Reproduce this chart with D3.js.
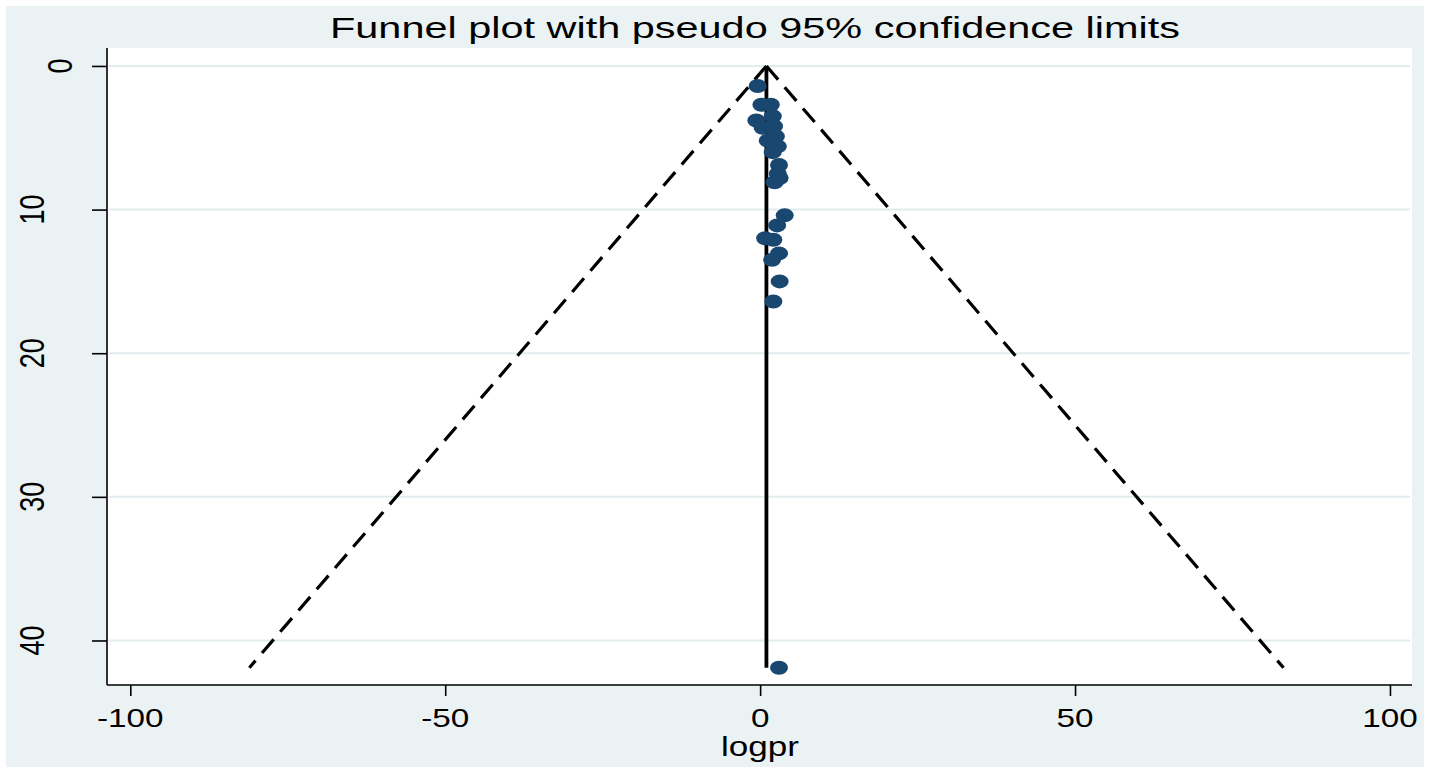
<head>
    <meta charset="utf-8">
    <title>Funnel plot</title>
    <script src="https://d3js.org/d3.v7.min.js" charset="utf-8"></script>
    <style>
        body { margin: 0; background: #ffffff; }
        text { font-family: "Liberation Sans", Arial, sans-serif; fill: #000; }
    </style>
</head>

<body>
    <div class="chart"></div>
    <script type="text/javascript">

        // study estimates (logpr) and their standard errors
        const effect = [-0.4, 0.2, 1.7, -0.6, 2.0, 0.4, 2.2, 2.5, 1.2, 2.8, 2.0,
                        3.0, 2.8, 3.1, 2.3, 3.9, 2.7, 0.8, 2.1, 3.0, 1.9, 3.1, 2.1, 3.0]
        const stdErr = [1.4, 2.7, 2.7, 3.8, 3.5, 4.3, 4.2, 4.9, 5.2, 5.6, 6.0,
                        6.9, 7.5, 7.8, 8.1, 10.4, 11.1, 12.0, 12.1, 13.05, 13.5, 15.0, 16.4, 41.9]

        // pooled estimate line and pseudo 95% limits
        const pooled = 1.0
        const limitSe = [0, 41.9]
        const lowerLimit = [1.0, -81.1]
        const upperLimit = [1.0, 83.1]

        const xTicks = [-100, -50, 0, 50, 100]
        const yTicks = [0, 10, 20, 30, 40]
        const title = 'Funnel plot with pseudo 95% confidence limits'
        const xLabel = 'logpr'

        const w = 1430
        const h = 774
        const plotL = 107, plotR = 1412, plotT = 48, plotB = 685
        const sx = 1.28   // the original picture is stretched sideways

        const svg = d3.select('.chart')
            .append('svg')
            .attr('width', w)
            .attr('height', h)

        svg.append('rect')
            .attr('x', 6).attr('y', 6)
            .attr('width', 1418).attr('height', 761)
            .attr('fill', '#eaf2f3')

        svg.append('rect')
            .attr('x', plotL).attr('y', plotT)
            .attr('width', plotR - plotL).attr('height', plotB - plotT)
            .attr('fill', '#ffffff')

        const xScale = d3.scaleLinear()
            .domain([-103.7, 103.5])
            .range([plotL, plotR])

        const yScale = d3.scaleLinear()
            .domain([-1.25, 43.1])
            .range([plotT, plotB])

        // grid lines
        svg.selectAll('.grid')
            .data(yTicks)
            .enter()
            .append('line')
            .attr('class', 'grid')
            .attr('x1', plotL + 2).attr('x2', plotR - 2)
            .attr('y1', d => yScale(d)).attr('y2', d => yScale(d))
            .attr('stroke', '#e2ecee')
            .attr('stroke-width', 2)

        // confidence limits
        const limitLine = d3.line()
            .x(d => xScale(d[0]))
            .y(d => yScale(d[1]))

        ;[lowerLimit, upperLimit].forEach(lim => {
            svg.append('path')
                .datum(lim.map((v, i) => [v, limitSe[i]]))
                .attr('d', limitLine)
                .attr('fill', 'none')
                .attr('stroke', '#000')
                .attr('stroke-width', 3.2)
                .attr('stroke-dasharray', '18,10')
        })

        svg.append('path')
            .datum(limitSe.map(s => [pooled, s]))
            .attr('d', limitLine)
            .attr('fill', 'none')
            .attr('stroke', '#000')
            .attr('stroke-width', 3.8)

        // studies
        svg.selectAll('.study')
            .data(effect.map((v, i) => [v, stdErr[i]]))
            .enter()
            .append('ellipse')
            .attr('class', 'study')
            .attr('cx', d => xScale(d[0]))
            .attr('cy', d => yScale(d[1]))
            .attr('rx', 9)
            .attr('ry', 7)
            .attr('fill', '#1a476f')

        // axes
        const xAxis = d3.axisBottom(xScale)
            .tickValues(xTicks)
            .tickSize(11)
            .tickFormat('')
        const yAxis = d3.axisLeft(yScale)
            .tickValues(yTicks)
            .tickSize(15)
            .tickFormat('')

        const gx = svg.append('g')
            .attr('transform', 'translate(0,' + plotB + ')')
            .call(xAxis)
        gx.select('.domain').attr('d', 'M' + plotL + ',0H' + plotR)

        const gy = svg.append('g')
            .attr('transform', 'translate(' + plotL + ',0)')
            .call(yAxis)
        gy.select('.domain').attr('d', 'M0,' + plotT + 'V' + plotB)

        svg.selectAll('.domain, .tick line')
            .attr('stroke', '#000')
            .attr('stroke-width', 1.6)

        // tick labels
        svg.selectAll('.xlab')
            .data(xTicks)
            .enter()
            .append('text')
            .attr('class', 'xlab')
            .attr('transform', d => 'translate(' + xScale(d) + ',727) scale(' + sx + ',1)')
            .attr('text-anchor', 'middle')
            .attr('font-size', '26px')
            .text(d => d)

        svg.selectAll('.ylab')
            .data(yTicks)
            .enter()
            .append('text')
            .attr('class', 'ylab')
            .attr('transform', d => 'translate(' + (44 + (2 - String(d).length) * 28) + ',' + yScale(d) + ') scale(' + sx + ',1) rotate(-90)')
            .attr('text-anchor', 'middle')
            .attr('font-size', '27px')
            .text(d => d)

        // axis title and graph title
        svg.append('text')
            .attr('transform', 'translate(760,756) scale(1.3,1)')
            .attr('text-anchor', 'middle')
            .attr('font-size', '27px')
            .text(xLabel)

        svg.append('text')
            .attr('x', 755)
            .attr('y', 38)
            .attr('text-anchor', 'middle')
            .attr('font-size', '29px')
            .attr('textLength', 850)
            .attr('lengthAdjust', 'spacingAndGlyphs')
            .text(title)

    </script>
</body>
